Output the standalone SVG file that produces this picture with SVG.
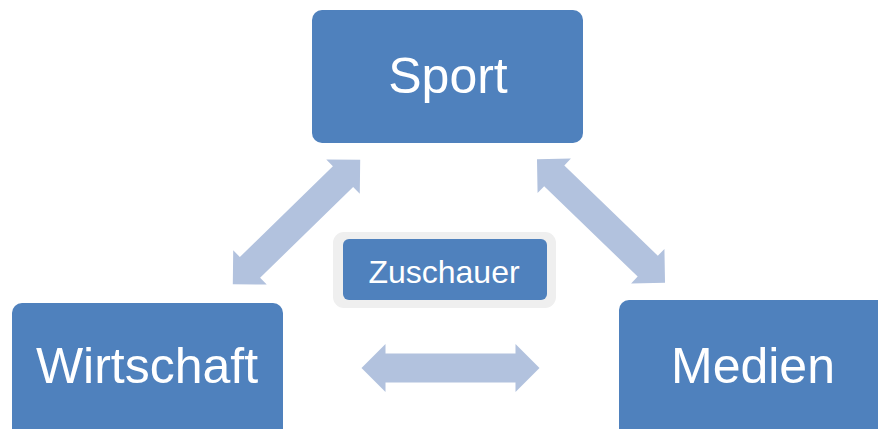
<svg xmlns="http://www.w3.org/2000/svg" width="878" height="429" viewBox="0 0 878 429">
  <style>
    .box { fill: #4F81BD; }
    .label { fill: #FFFFFF; font-family: "Liberation Sans", Arial, sans-serif; text-anchor: middle; }
    .big { font-size: 50px; }
    .small { font-size: 32px; }
    .arrow { fill: #B2C2DE; }
    .halo { fill: #EFEFEF; }
  </style>
  <defs>
    <!-- double-headed block arrow centred on the origin, pointing along x -->
    <path id="dblArrow" d="M -89 0 L -65 -24 L -65 -14.5 L 65 -14.5 L 65 -24 L 89 0 L 65 24 L 65 14.5 L -65 14.5 L -65 24 Z"/>
  </defs>

  <g id="connectors">
    <use href="#dblArrow" class="arrow" transform="translate(296.5 222) rotate(-44.3)"/>
    <use href="#dblArrow" class="arrow" transform="translate(601 221) rotate(44)"/>
    <use href="#dblArrow" class="arrow" transform="translate(450.5 368)"/>
  </g>

  <g id="sport">
    <rect class="box" x="312" y="10" width="271" height="133" rx="10"/>
    <text class="label big" x="448" y="93">Sport</text>
  </g>

  <g id="wirtschaft">
    <rect class="box" x="12" y="303" width="271" height="140" rx="10"/>
    <text class="label big" x="147" y="383">Wirtschaft</text>
  </g>

  <g id="medien">
    <rect class="box" x="619" y="300" width="280" height="140" rx="10"/>
    <text class="label big" x="753" y="383">Medien</text>
  </g>

  <g id="zuschauer">
    <rect class="halo" x="333" y="232" width="223" height="76" rx="11"/>
    <rect class="box" x="343" y="239" width="204" height="61" rx="6"/>
    <text class="label small" x="444" y="283">Zuschauer</text>
  </g>
</svg>
